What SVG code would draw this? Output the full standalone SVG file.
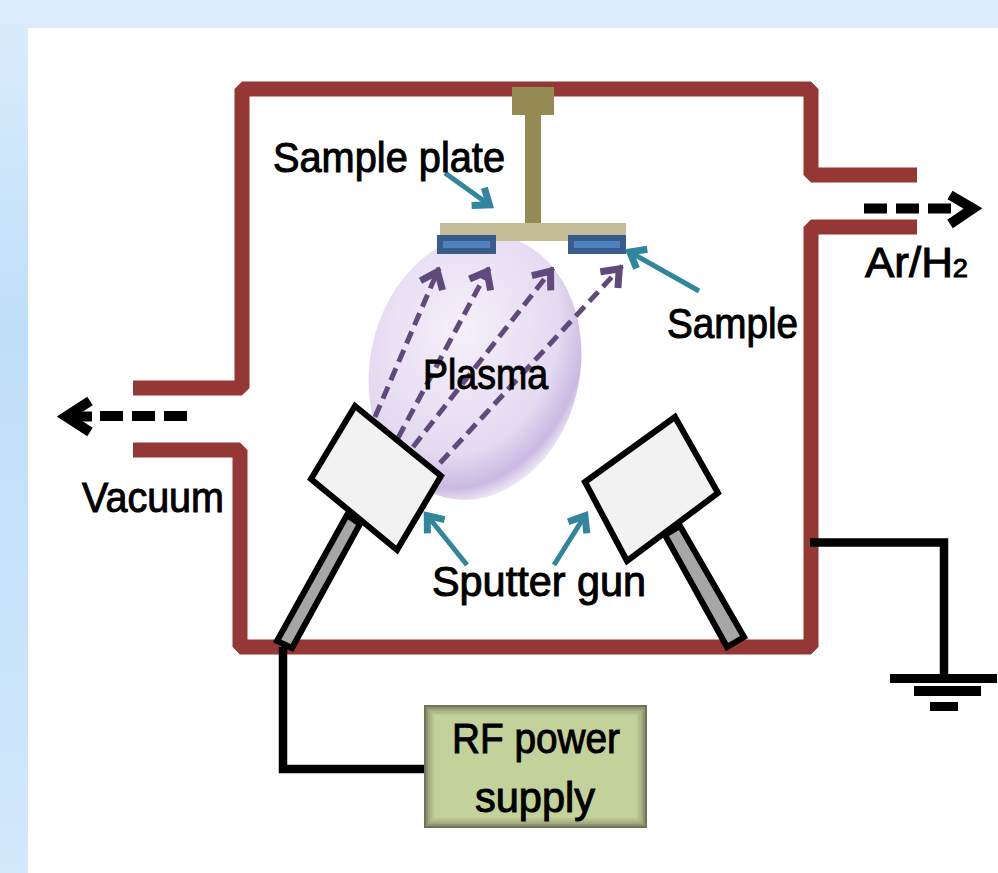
<svg xmlns="http://www.w3.org/2000/svg" width="998" height="873" viewBox="0 0 998 873">
<style>
.lbl{font-family:"Liberation Sans",Arial,sans-serif;font-size:42px;fill:#000;stroke:#000;stroke-width:1px}
.wall{fill:none;stroke:#953735;stroke-width:15;stroke-linejoin:bevel}
.wire{fill:none;stroke:#000;stroke-width:8.500}
.teal{fill:none;stroke:#31859c;stroke-width:5;marker-end:url(#tealHead)}
.beam{fill:none;stroke:#604a7b;stroke-width:5;stroke-dasharray:13 7;marker-end:url(#beamHead)}
.flow{fill:none;stroke:#000;stroke-width:10;stroke-dasharray:23 9}
.gun{fill:#f2f2f2;stroke:#000;stroke-width:6;stroke-linejoin:miter}
.handle{fill:#a6a6a6;stroke:#000;stroke-width:6}
.samp{fill:#4f81bd;stroke:#385d8a;stroke-width:6}
</style>
<defs>
<linearGradient id="bg" x1="0" y1="0" x2="0" y2="1"><stop offset="0" stop-color="#dcedfc"/><stop offset=".38" stop-color="#bfdff8"/><stop offset="1" stop-color="#d2e8fb"/></linearGradient>
<radialGradient id="plasma" cx=".4" cy=".38" r=".66"><stop offset="0" stop-color="#f5f0fb"/><stop offset=".7" stop-color="#e4daf1"/><stop offset=".9" stop-color="#cbb9e2"/><stop offset="1" stop-color="#cbb9e2" stop-opacity=".25"/></radialGradient>
<marker id="tealHead" markerUnits="userSpaceOnUse" markerWidth="40" markerHeight="40" refX="22" refY="20" viewBox="0 0 40 40" orient="auto" overflow="visible"><path d="M6 9L20 20L6 31" fill="none" stroke="#31859c" stroke-width="7"/></marker>
<marker id="beamHead" markerUnits="userSpaceOnUse" markerWidth="40" markerHeight="40" refX="30" refY="20" viewBox="0 0 40 40" orient="auto" overflow="visible"><path d="M11 8L26 20L11 32" fill="none" stroke="#604a7b" stroke-width="7"/></marker>
</defs>
<rect id="background" width="998" height="873" fill="url(#bg)"/>
<rect id="panel" x="28" y="28" width="970" height="845" fill="#fff"/>

<g id="plasma-cloud"><ellipse cx="475" cy="367" rx="105" ry="134" transform="rotate(12 475 367)" fill="url(#plasma)"/></g>

<g id="chamber">
<path class="wall" d="M133 388H242V89H811V175H917"/>
<path class="wall" d="M917 227H811V647H240V450H133"/>
</g>

<g id="sample-plate">
<rect x="525" y="115" width="16" height="109" fill="#948a54"/>
<rect x="512" y="87" width="42" height="28" fill="#948a54"/>
<rect x="440" y="223" width="186" height="18" fill="#c4bd97"/>
<rect class="samp" x="440" y="238" width="53" height="13"/>
<rect class="samp" x="571" y="238" width="52" height="13"/>
</g>

<g id="connectors">
<path class="wire" d="M283 647V769H425"/>
<path class="wire" d="M810 542.500H944V676"/>
<g id="ground-symbol" fill="#000">
<rect x="890" y="674" width="107" height="9"/>
<rect x="914" y="686" width="67" height="10"/>
<rect x="930" y="702" width="28" height="9"/>
</g>
<path class="beam" d="M375 417L439 268"/>
<path class="beam" d="M398 438L489 268"/>
<path class="beam" d="M413 447L553 268"/>
<path class="beam" d="M440 463L622 266"/>
<path class="teal" d="M445 173L491 206"/>
<path class="teal" d="M699 291L628 251"/>
<path class="teal" d="M467 565L426 514"/>
<path class="teal" d="M554 565L586 514"/>
<path class="flow" d="M864 208.500H952"/>
<path d="M950 195L973 208.500L950 224" fill="none" stroke="#000" stroke-width="10"/>
<path class="flow" d="M187 416H100"/>
<path d="M92 416.500H72" fill="none" stroke="#000" stroke-width="10"/>
<path d="M90 401L66 416.500L90 432" fill="none" stroke="#000" stroke-width="10"/>
</g>

<g id="gun-left">
<polygon class="handle" points="347,515 277,641 292,648 360,524"/>
<polygon class="gun" points="355,406 441,476 397,550 311,479"/>
</g>
<g id="gun-right">
<polygon class="handle" points="665,535 727,647 744,637 680,526"/>
<polygon class="gun" points="675,417 718,493 627,561 585,482"/>
</g>

<g id="rf-supply">
<rect x="424" y="705" width="223" height="123" fill="#6f7355"/>
<rect x="426" y="707" width="219" height="119" fill="#8d9270"/>
<rect x="428" y="709" width="215" height="115" fill="#a2a881"/>
<rect x="430" y="711" width="211" height="111" fill="#b0b78b"/>
<rect x="432" y="713" width="207" height="107" fill="#bac392"/>
<rect x="434" y="715" width="203" height="103" fill="#c3d29a"/>
<text class="lbl" x="452" y="753" textLength="168" lengthAdjust="spacingAndGlyphs">RF power</text>
<text class="lbl" x="475" y="812" textLength="120" lengthAdjust="spacingAndGlyphs">supply</text>
</g>

<g id="labels">
<text class="lbl" x="273" y="172" textLength="232" lengthAdjust="spacingAndGlyphs">Sample plate</text>
<text class="lbl" x="423" y="389" textLength="125" lengthAdjust="spacingAndGlyphs">Plasma</text>
<text class="lbl" x="667" y="338" textLength="131" lengthAdjust="spacingAndGlyphs">Sample</text>
<text class="lbl" x="432" y="596" textLength="214" lengthAdjust="spacingAndGlyphs">Sputter gun</text>
<text class="lbl" x="82" y="512" textLength="142" lengthAdjust="spacingAndGlyphs">Vacuum</text>
<text class="lbl" x="865" y="277" textLength="103" lengthAdjust="spacingAndGlyphs">Ar/H<tspan font-size="26">2</tspan></text>
</g>
</svg>
